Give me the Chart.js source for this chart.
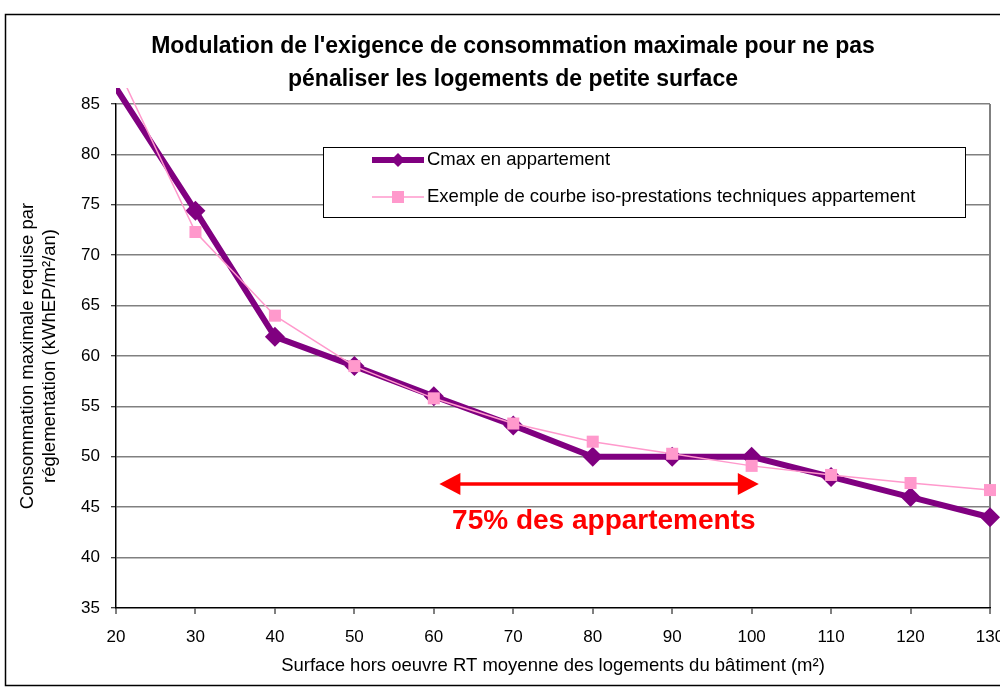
<!DOCTYPE html>
<html><head><meta charset="utf-8">
<script src="https://cdn.jsdelivr.net/npm/chart.js@4/dist/chart.umd.min.js"></script>
<style>html,body{margin:0;padding:0;background:#fff;overflow:hidden}</style>
</head><body>
<canvas id="c" width="1000" height="693" style="width:1000px;height:693px;display:block"></canvas>
<script>
// ---- data ----
const surfaces = [20, 30, 40, 50, 60, 70, 80, 90, 100, 110, 120, 130];
const cmaxValues = [86.6, 74.4, 61.9, 59.0, 56.0, 53.1, 50.0, 50.0, 50.0, 48.0, 46.0, 44.0];
const isoValues = [88.9, 72.3, 64.0, 59.0, 55.8, 53.3, 51.5, 50.3, 49.1, 48.2, 47.4, 46.7];
const seriesLabels = ["Cmax en appartement", "Exemple de courbe iso-prestations techniques appartement"];
const titleLines = ["Modulation de l'exigence de consommation maximale pour ne pas", "pénaliser les logements de petite surface"];
const xTitle = "Surface hors oeuvre RT moyenne des logements du bâtiment (m²)";
const yTitle = ["Consommation maximale requise par", "réglementation (kWhEP/m²/an)"];
const xRange = [20, 130, 10];
const yRange = [35, 85, 5];
const rangeArrow = [60.7, 100.9, 47.3];   // x start, x end, y
const rangeLabel = "75% des appartements";
const rangeLabelPos = [81.4, 42.8];

const FONT = "'Liberation Sans', Arial, sans-serif";
const PURPLE = '#800080', PINK = '#FF99CC', RED = '#FF0000';

const framePlugin = {
  id: 'frame',
  beforeDraw(chart) {
    const ctx = chart.ctx;
    ctx.save();
    ctx.fillStyle = '#fff';
    ctx.fillRect(0, 0, chart.width, chart.height);
    ctx.strokeStyle = '#000';
    ctx.lineWidth = 1.5;
    ctx.strokeRect(5.5, 14.5, 1010, 671);
    ctx.fillStyle = '#000';
    ctx.font = 'bold 23px ' + FONT;
    ctx.textAlign = 'center';
    ctx.textBaseline = 'middle';
    ctx.fillText(titleLines[0], 513, 47);
    ctx.fillText(titleLines[1], 513, 80);
    ctx.restore();
  },
  afterDraw(chart) {
    const ctx = chart.ctx;
    const xs = chart.scales.x, ys = chart.scales.y;
    ctx.save();
    // legend box
    ctx.fillStyle = '#fff';
    ctx.fillRect(323, 147, 642, 70);
    ctx.strokeStyle = '#000';
    ctx.lineWidth = 1;
    ctx.strokeRect(323.5, 147.5, 642, 70);
    // entry 1
    ctx.strokeStyle = PURPLE; ctx.lineWidth = 6;
    ctx.beginPath(); ctx.moveTo(372, 160); ctx.lineTo(424, 160); ctx.stroke();
    ctx.fillStyle = PURPLE;
    ctx.beginPath(); ctx.moveTo(398, 153); ctx.lineTo(405, 160); ctx.lineTo(398, 167); ctx.lineTo(391, 160); ctx.closePath(); ctx.fill();
    // entry 2
    ctx.strokeStyle = PINK; ctx.lineWidth = 1.5;
    ctx.beginPath(); ctx.moveTo(372, 197); ctx.lineTo(424, 197); ctx.stroke();
    ctx.fillStyle = PINK;
    ctx.fillRect(392, 191, 12, 12);
    ctx.fillStyle = '#000';
    ctx.font = '18.5px ' + FONT;
    ctx.textAlign = 'left'; ctx.textBaseline = 'middle';
    ctx.fillText(seriesLabels[0], 427, 160);
    ctx.fillText(seriesLabels[1], 427, 197);
    // range arrow
    const x1 = xs.getPixelForValue(rangeArrow[0]);
    const x2 = xs.getPixelForValue(rangeArrow[1]);
    const y = ys.getPixelForValue(rangeArrow[2]);
    ctx.strokeStyle = RED; ctx.fillStyle = RED; ctx.lineWidth = 3.5;
    ctx.beginPath(); ctx.moveTo(x1 + 15, y); ctx.lineTo(x2 - 15, y); ctx.stroke();
    ctx.beginPath(); ctx.moveTo(x1, y); ctx.lineTo(x1 + 21, y - 11); ctx.lineTo(x1 + 21, y + 11); ctx.closePath(); ctx.fill();
    ctx.beginPath(); ctx.moveTo(x2, y); ctx.lineTo(x2 - 21, y - 11); ctx.lineTo(x2 - 21, y + 11); ctx.closePath(); ctx.fill();
    ctx.font = 'bold 28px ' + FONT;
    ctx.textAlign = 'center'; ctx.textBaseline = 'alphabetic';
    ctx.fillText(rangeLabel, xs.getPixelForValue(rangeLabelPos[0]), ys.getPixelForValue(rangeLabelPos[1]));
    ctx.restore();
  }
};

const toPts = vals => surfaces.map((s, i) => ({x: s, y: vals[i]}));

new Chart(document.getElementById('c'), {
  type: 'line',
  data: {
    datasets: [
      {
        label: seriesLabels[0], data: toPts(cmaxValues), order: 1,
        borderColor: PURPLE, backgroundColor: PURPLE, borderWidth: 6,
        pointStyle: 'rectRot', pointRadius: ctx => ctx.dataIndex === 0 ? 0 : 10,
        pointBorderWidth: 0, tension: 0,
        clip: {left: 0, top: 16, right: 12, bottom: 0}
      },
      {
        label: seriesLabels[1], data: toPts(isoValues), order: 0,
        borderColor: PINK, backgroundColor: PINK, borderWidth: 1.5,
        pointStyle: 'rect', pointRadius: ctx => ctx.dataIndex === 0 ? 0 : 8.5,
        pointBorderWidth: 0, tension: 0,
        clip: {left: 0, top: 16, right: 12, bottom: 0}
      }
    ]
  },
  options: {
    responsive: false, animation: false, devicePixelRatio: 1,
    layout: {padding: {top: 104, left: 0, right: 8, bottom: 0}},
    plugins: {legend: {display: false}, title: {display: false}, tooltip: {enabled: false}},
    scales: {
      x: {
        type: 'linear', min: xRange[0], max: xRange[1],
        ticks: {stepSize: xRange[2], color: '#000', font: {family: FONT, size: 17}, padding: 13, maxRotation: 0, autoSkip: false},
        grid: {
          drawOnChartArea: true, drawTicks: true, tickLength: 6, tickColor: '#000', tickWidth: 1,
          color: c => (c.tick && c.tick.value === xRange[1]) ? '#808080' : 'rgba(0,0,0,0)', lineWidth: 2
        },
        border: {display: true, color: '#000', width: 1.5},
        title: {display: true, text: xTitle, color: '#000', font: {family: FONT, size: 18.5}, padding: {top: 0, bottom: 16}},
        afterFit: s => { s.height = 85; s.paddingLeft = 0; s.paddingRight = 0; }
      },
      y: {
        type: 'linear', min: yRange[0], max: yRange[1],
        ticks: {stepSize: yRange[2], color: '#000', font: {family: FONT, size: 17}, padding: 11},
        grid: {
          drawTicks: true, tickLength: 5, tickColor: '#000', tickWidth: 1,
          color: c => (c.tick && c.tick.value === yRange[0]) ? 'rgba(0,0,0,0)' : '#808080', lineWidth: 1.5
        },
        border: {display: true, color: '#000', width: 1.5},
        title: {display: true, text: yTitle, color: '#000', font: {family: FONT, size: 18.5}, padding: {top: 17, bottom: 0}},
        afterFit: s => { s.width = 116; s.paddingTop = 0; s.paddingBottom = 0; }
      }
    }
  },
  plugins: [framePlugin]
});
</script>
</body></html>
